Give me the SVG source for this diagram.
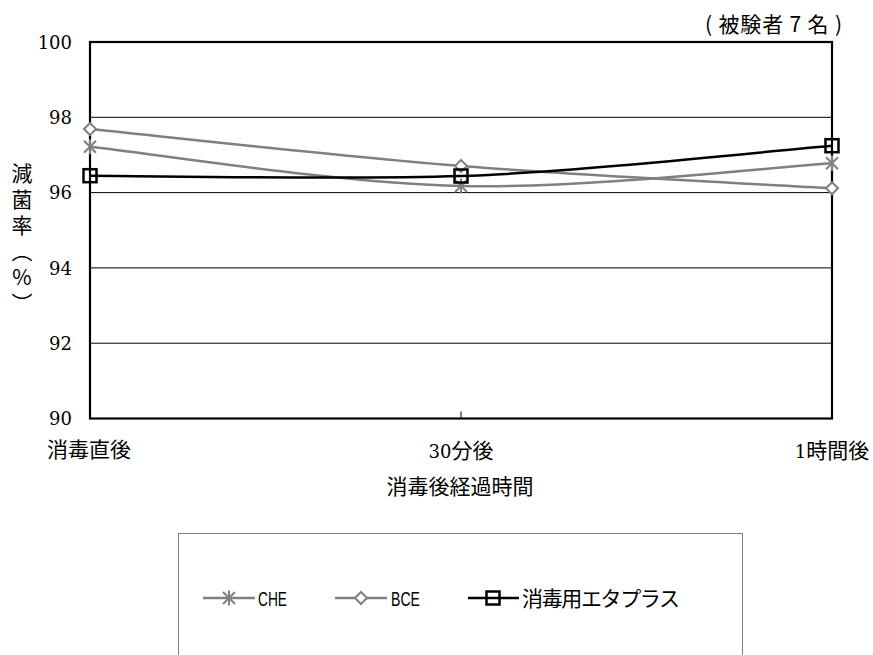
<svg xmlns="http://www.w3.org/2000/svg" width="873" height="655" viewBox="0 0 873 655">
<style>
.num{font-family:"DejaVu Serif","Liberation Serif",serif;font-size:18px;fill:#000}
.jp{font-family:"Noto Sans CJK JP","Noto Sans",sans-serif;font-size:21px;fill:#000}
.grid{stroke:#000;stroke-width:1;fill:none}
.axis{stroke:#000;stroke-width:2.2;fill:none}
.gray{stroke:#808080;stroke-width:2.5;fill:none}
.blk{stroke:#000;stroke-width:2.5;fill:none}
.leg{font-family:"Liberation Sans","DejaVu Sans",sans-serif;font-size:21px;fill:#000}
</style>
<defs>
<g id="star"><path d="M-6,-6L6,6M-6,6L6,-6M0,-7.5L0,7.5" stroke="#808080" stroke-width="2" fill="none"/></g>
<g id="dia"><path d="M0,-6L6,0L0,6L-6,0Z" stroke="#808080" stroke-width="2" fill="#fff"/></g>
<g id="sq"><rect x="-6.5" y="-6.5" width="13" height="13" stroke="#000" stroke-width="2.5" fill="none"/></g>
</defs>
<rect width="873" height="655" fill="#fff"/>
<g id="grid">
<line class="grid" x1="90" y1="117.3" x2="832" y2="117.3"/>
<line class="grid" x1="90" y1="192.6" x2="832" y2="192.6" stroke="#555"/>
<line class="grid" x1="90" y1="267.9" x2="832" y2="267.9"/>
<line class="grid" x1="90" y1="343.2" x2="832" y2="343.2"/>
<rect class="axis" x="90" y="42" width="742" height="376.5"/>
<line class="grid" x1="461" y1="411.5" x2="461" y2="418"/>
</g>
<g id="y-labels" class="num" text-anchor="end">
<text x="72" y="48.5">100</text>
<text x="72" y="124">98</text>
<text x="72" y="199.3">96</text>
<text x="72" y="274.5">94</text>
<text x="72" y="349.8">92</text>
<text x="72" y="425">90</text>
</g>
<text id="y-title" class="jp" x="22" y="163" font-size="19" style="writing-mode:vertical-rl;text-orientation:upright" letter-spacing="5">減菌率（%）</text>
<g id="x-labels">
<text class="jp" x="47" y="457">消毒直後</text>
<text x="461" y="458" text-anchor="middle"><tspan class="num">30</tspan><tspan class="jp">分後</tspan></text>
<text x="832" y="458" text-anchor="middle"><tspan class="num">1</tspan><tspan class="jp">時間後</tspan></text>
<text class="jp" x="460" y="494" text-anchor="middle">消毒後経過時間</text>
</g>
<text id="note" class="jp" x="705" y="32" font-size="17" textLength="137" lengthAdjust="spacing">( 被験者 7 名 )</text>
<g id="connectors">
<path id="CHE" class="gray" d="M90,146.7C151.8,153.2 337.3,183.2 461,186C584.7,188.8 770.2,167.1 832,163.3"/>
<path id="BCE" class="gray" d="M90,129C151.8,135.2 337.3,156.1 461,166C584.7,175.9 770.2,184.6 832,188.3"/>
<path id="ETA" class="blk" d="M90,175.7C151.8,175.75 337.3,180 461,176C584.7,172 770.2,150.75 832,145.7"/>
</g>
<g id="markers">
<use href="#star" x="90" y="146.7"/><use href="#star" x="461" y="186"/><use href="#star" x="832" y="163.3"/>
<use href="#dia" x="90" y="129"/><use href="#dia" x="461" y="166"/><use href="#dia" x="832" y="188.3"/>
<use href="#sq" x="90" y="175.7"/><use href="#sq" x="461" y="176"/><use href="#sq" x="832" y="145.7"/>
</g>
<g id="legend">
<rect x="178.5" y="533.5" width="564" height="130" fill="none" stroke="#808080" stroke-width="1"/>
<line class="gray" x1="203" y1="598" x2="255" y2="598"/>
<use href="#star" x="229" y="598"/>
<text class="leg" x="258" y="605.5" textLength="29" lengthAdjust="spacingAndGlyphs">CHE</text>
<line class="gray" x1="335" y1="598" x2="387" y2="598"/>
<use href="#dia" x="361" y="598"/>
<text class="leg" x="391" y="605.5" textLength="29" lengthAdjust="spacingAndGlyphs">BCE</text>
<line class="blk" x1="468" y1="598" x2="519" y2="598"/>
<use href="#sq" x="493" y="598"/>
<text class="jp" x="522" y="605.5" font-size="20" textLength="158">消毒用エタプラス</text>
</g>
</svg>
